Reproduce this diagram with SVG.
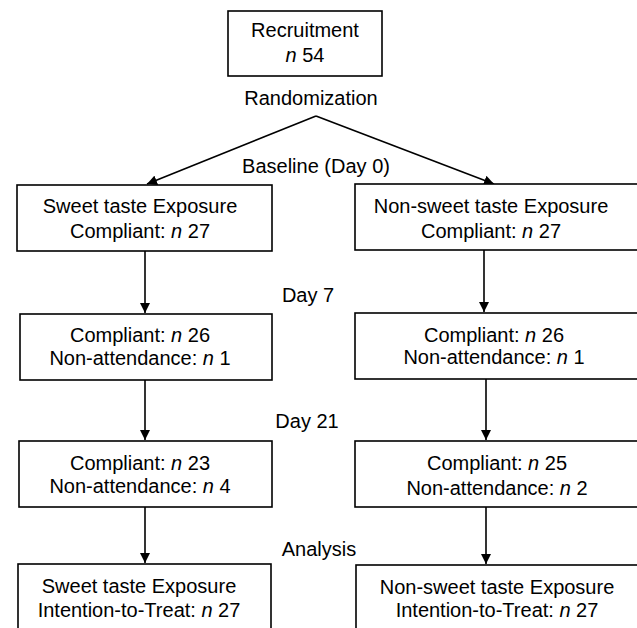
<svg xmlns="http://www.w3.org/2000/svg" width="637" height="628" viewBox="0 0 637 628">
<style>
.box{fill:#fff;stroke:#000;stroke-width:1.6}
text{font-family:"Liberation Sans",Arial,sans-serif;font-size:20px;fill:#000;text-anchor:middle}
.c line{stroke:#000;stroke-width:1.6}
</style>
<defs>
<marker id="ah" viewBox="0 0 10 10" refX="10" refY="5" markerWidth="10" markerHeight="10" markerUnits="userSpaceOnUse" orient="auto">
<path d="M0,0 L10,5 L0,10 Z" fill="#000"/>
</marker>
</defs>
<rect width="637" height="628" fill="#fff"/>
<g class="c" id="connectors">
<line x1="316" y1="116" x2="147" y2="184" marker-end="url(#ah)"/>
<line x1="316" y1="116" x2="494" y2="184" marker-end="url(#ah)"/>
<line x1="145" y1="251" x2="145" y2="313" marker-end="url(#ah)"/>
<line x1="145" y1="380" x2="145" y2="440" marker-end="url(#ah)"/>
<line x1="145" y1="507" x2="145" y2="563" marker-end="url(#ah)"/>
<line x1="484" y1="250" x2="484" y2="312" marker-end="url(#ah)"/>
<line x1="486" y1="379" x2="486" y2="440" marker-end="url(#ah)"/>
<line x1="486" y1="507" x2="486" y2="564" marker-end="url(#ah)"/>
</g>
<g id="labels">
<text x="311" y="105">Randomization</text>
<text x="316" y="173">Baseline (Day 0)</text>
<text x="308" y="302">Day 7</text>
<text x="307" y="428">Day 21</text>
<text x="319" y="556">Analysis</text>
</g>
<g id="recruitment">
<rect class="box" x="228" y="11" width="154" height="65"/>
<text x="305" y="37">Recruitment</text>
<text x="305" y="62"><tspan font-style="italic">n</tspan> 54</text>
</g>
<g id="sweet-baseline">
<rect class="box" x="17" y="185" width="255" height="66"/>
<text x="140" y="213">Sweet taste Exposure</text>
<text x="140" y="238">Compliant: <tspan font-style="italic">n</tspan> 27</text>
</g>
<g id="nonsweet-baseline">
<rect class="box" x="355" y="184" width="290" height="66"/>
<text x="491" y="213">Non-sweet taste Exposure</text>
<text x="491" y="238">Compliant: <tspan font-style="italic">n</tspan> 27</text>
</g>
<g id="sweet-day7">
<rect class="box" x="20" y="314" width="252" height="66"/>
<text x="140" y="342">Compliant: <tspan font-style="italic">n</tspan> 26</text>
<text x="140" y="365">Non-attendance: <tspan font-style="italic">n</tspan> 1</text>
</g>
<g id="nonsweet-day7">
<rect class="box" x="355" y="313" width="290" height="66"/>
<text x="494" y="342">Compliant: <tspan font-style="italic">n</tspan> 26</text>
<text x="494" y="364">Non-attendance: <tspan font-style="italic">n</tspan> 1</text>
</g>
<g id="sweet-day21">
<rect class="box" x="19" y="441" width="253" height="66"/>
<text x="140" y="470">Compliant: <tspan font-style="italic">n</tspan> 23</text>
<text x="140" y="493">Non-attendance: <tspan font-style="italic">n</tspan> 4</text>
</g>
<g id="nonsweet-day21">
<rect class="box" x="355" y="441" width="290" height="66"/>
<text x="497" y="470">Compliant: <tspan font-style="italic">n</tspan> 25</text>
<text x="497" y="495">Non-attendance: <tspan font-style="italic">n</tspan> 2</text>
</g>
<g id="sweet-analysis">
<rect class="box" x="18" y="564" width="253" height="80"/>
<text x="139" y="593">Sweet taste Exposure</text>
<text x="139" y="617">Intention-to-Treat: <tspan font-style="italic">n</tspan> 27</text>
</g>
<g id="nonsweet-analysis">
<rect class="box" x="356" y="565" width="290" height="80"/>
<text x="497" y="594">Non-sweet taste Exposure</text>
<text x="497" y="617">Intention-to-Treat: <tspan font-style="italic">n</tspan> 27</text>
</g>
</svg>
